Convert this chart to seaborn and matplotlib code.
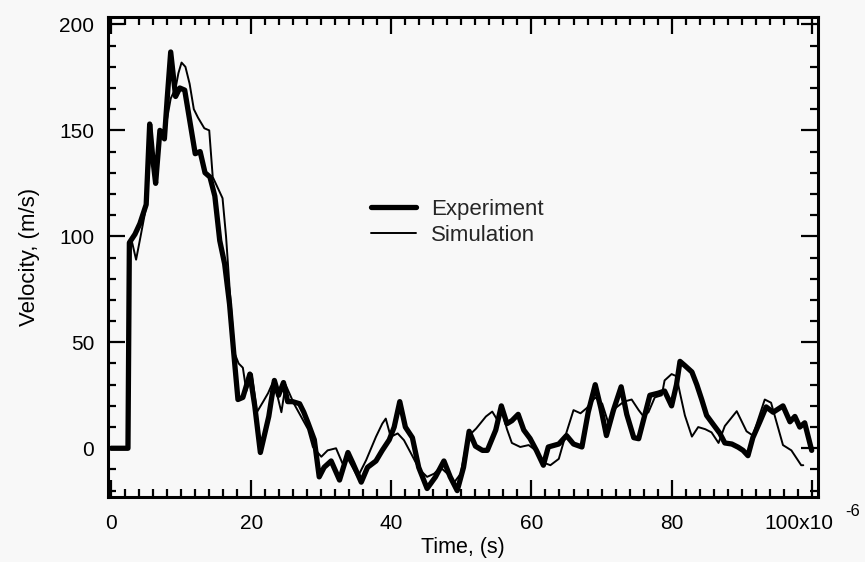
import matplotlib
matplotlib.use("Agg")
import matplotlib.pyplot as plt
import matplotlib.transforms as mtransforms
import seaborn as sns
import pandas as pd
from matplotlib.ticker import MultipleLocator, FixedLocator

# ---- data (time in microseconds, velocity in m/s) ----
exp_t = [0, 2.4, 2.6, 3.4, 4.1, 5.0, 5.5, 6.0, 6.35, 6.96, 7.6, 8.0, 8.5, 9.2, 9.8,
         10.5, 11.2, 12.0, 12.7, 13.4, 14.1, 14.8, 15.5, 16.2, 16.9, 17.5, 18.1, 18.8,
         19.8, 20.5, 21.3, 22.5, 23.3, 23.9, 24.6, 25.2, 25.9, 26.9, 27.5, 28.1, 29.0,
         29.7, 30.4, 31.4, 32.6, 33.8, 34.5, 35.7, 36.6, 37.8, 38.7, 39.7, 40.4, 41.2,
         42.0, 43.0, 43.9, 45.1, 46.3, 47.5, 48.4, 49.4, 50.3, 51.1, 52.0, 53.0, 53.7,
         54.9, 55.7, 56.5, 57.2, 58.1, 58.9, 59.8, 60.7, 61.7, 62.4, 63.9, 65.0, 66.0,
         67.2, 68.1, 69.1, 69.9, 70.7, 71.7, 72.8, 73.6, 74.6, 75.3, 76.2, 76.9, 78.1,
         79.0, 80.0, 80.7, 81.2, 81.9, 82.9, 83.6, 84.3, 85.0, 86.0, 86.9, 87.6, 88.6,
         89.5, 90.2, 90.9, 91.6, 92.6, 93.5, 94.5, 95.9, 96.9, 97.6, 98.3, 99.0, 100.0]
exp_v = [0, 0, 97, 101, 106, 115, 153, 135, 125, 150, 146, 165, 187, 166, 170,
         169, 155, 139, 140, 130, 128, 119, 98, 87, 68, 45, 23, 24,
         35, 20, -2, 15, 32, 25, 31, 22, 22, 21, 17, 12, 4,
         -13.5, -9, -6, -15, -2, -7, -16, -9, -6, -1, 4, 10, 22,
         10, 5, -9, -19, -13.5, -6, -13.5, -20, -9, 8, 1, -1, -1,
         8.6, 20, 11.6, 13, 16, 8.6, 4.6, -1, -8, 0.6, 2, 6, 2,
         0.6, 17, 30, 19, 6, 18, 29, 16, 5, 4.5, 16, 25, 26,
         27, 20, 30, 41, 39, 36, 30, 23, 15.5, 11, 7, 2.5, 2,
         0.5, -1, -3.5, 5, 12.5, 19.5, 17, 20, 12.5, 15, 10, 12, -1]

sim_t = [0, 2.4, 2.6, 3.0, 3.56, 4.2, 5.0, 5.6, 6.3, 7.0, 7.8, 8.5, 9.2, 9.6, 10.05,
         10.6, 11.2, 11.8, 12.4, 13.3, 14.0, 14.5, 15.2, 15.9, 16.4, 16.9, 17.6, 18.2,
         18.8, 19.3, 20.1, 20.8, 21.7, 22.4, 23.2, 24.3, 24.9, 26.1, 27.1, 28.1, 28.8,
         30.0, 30.9, 32.1, 33.0, 33.8, 35.2, 36.4, 37.8, 38.7, 39.2, 39.9, 40.9, 41.8,
         42.8, 44.0, 45.1, 46.1, 47.0, 48.0, 48.9, 49.9, 50.9, 52.1, 53.5, 54.4, 55.1,
         55.8, 56.5, 57.2, 58.4, 59.6, 60.6, 61.5, 62.7, 63.9, 64.8, 66.0, 67.0, 67.9,
         69.1, 70.1, 71.0, 72.0, 73.2, 74.3, 75.3, 76.0, 76.7, 77.6, 78.6, 79.0, 80.0,
         80.7, 81.2, 81.9, 82.9, 83.8, 84.8, 85.7, 86.7, 87.6, 89.3, 90.7, 91.6, 93.3,
         94.2, 95.9, 97.1, 98.5, 98.8]
sim_v = [0, 0, 96, 97, 89, 100, 114, 140, 127, 146, 152, 165, 170, 177, 182,
         180, 172, 160, 156, 151, 150, 128, 123, 118, 100, 76, 45, 40,
         38, 27, 35, 17, 22, 26, 32, 17, 30, 21, 15, 9, 0.6,
         -4, -1, 0, -7, -5, -13.5, -5.6, 5.4, 11.6, 14, 5.4, 7, 3.8,
         -2.4, -10, -13.5, -12, -9, -12, -16.4, -12, 5.4, 9.3, 15, 17.3, 13.5,
         17.3, 9, 2.5, 0.6, 1.5, -1, -6.5, -8, -5, 5.4, 18, 16.5, 19,
         24, 21, 11.6, 19, 22, 23, 18, 15, 17, 24, 25, 32, 35,
         34, 26, 15.5, 5.5, 10, 9, 7.5, 2.5, 10.5, 17.5, 8, 6, 23,
         21.5, 1.5, -1, -8, -8]

x_ticks = [0, 20, 40, 60, 80, 100]
x_tick_labels = ["0", "20", "40", "60", "80", "100x10"]
y_ticks = [0, 50, 100, 150, 200]

sns.set_theme(style="ticks")
plt.rcParams["font.family"] = ["Liberation Sans", "DejaVu Sans"]

bg = "#f8f8f8"
fig = plt.figure(figsize=(8.65, 5.62), dpi=100, facecolor=bg)
ax = fig.add_axes([108 / 865, 1 - 497 / 562, 710 / 865, 480 / 562])
ax.set_facecolor(bg)

exp_df = pd.DataFrame({"t": exp_t, "v": exp_v})
sim_df = pd.DataFrame({"t": sim_t, "v": sim_v})

sns.lineplot(data=exp_df, x="t", y="v", ax=ax, color="black", lw=3.8,
             sort=False, estimator=None, label="Experiment")
sns.lineplot(data=sim_df, x="t", y="v", ax=ax, color="black", lw=1.4,
             sort=False, estimator=None, label="Simulation")

ax.set_xlim(-0.45, 100.9)
ax.set_ylim(-23, 203.5)

ax.xaxis.set_major_locator(FixedLocator(x_ticks))
ax.set_xticklabels(x_tick_labels)
ax.xaxis.set_minor_locator(MultipleLocator(2))
ax.yaxis.set_major_locator(FixedLocator(y_ticks))
ax.yaxis.set_minor_locator(MultipleLocator(10))

ax.tick_params(which="both", direction="in", top=True, right=True,
               color="black", labelcolor="black", labelsize=15)
ax.tick_params(which="major", length=12, width=1.6)
ax.tick_params(which="minor", length=5.5, width=1.6)
ax.tick_params(axis="x", which="major", pad=12)
ax.tick_params(axis="y", which="major", pad=10)

# shift the "100x10" label left like the reference
last = ax.get_xticklabels()[-1]
last.set_transform(last.get_transform() +
                   mtransforms.ScaledTranslation(-13 / 100, 0, fig.dpi_scale_trans))

for s in ax.spines.values():
    s.set_visible(True)
    s.set_linewidth(2.2)
    s.set_color("black")

ax.set_xlabel("Time, (s)", fontsize=15.5, labelpad=3, color="black")
ax.set_ylabel("Velocity, (m/s)", fontsize=16, labelpad=14, color="black")

fig.text(853 / 865, 1 - 511 / 562, "-6", fontsize=12, ha="center", va="center",
         color="black")

leg = ax.legend(frameon=False, loc="upper left", bbox_to_anchor=(0.358, 0.64),
                handlelength=2.0, handletextpad=0.7, labelspacing=0.25, fontsize=16,
                borderaxespad=0)

fig.savefig("out.png", dpi=100, facecolor=bg)
